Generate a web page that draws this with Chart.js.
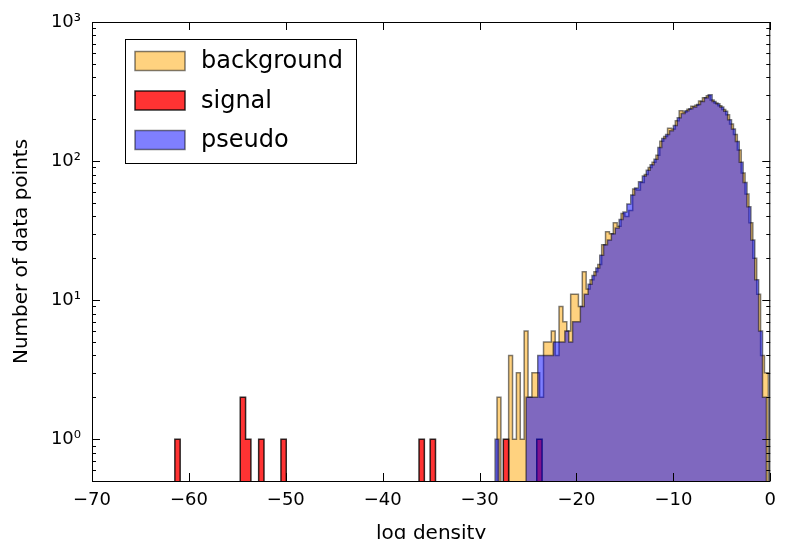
<!DOCTYPE html>
<html>
<head>
<meta charset="utf-8">
<script src="https://cdn.jsdelivr.net/npm/chart.js@4.4.1/dist/chart.umd.min.js"></script>
<style>
  html, body { margin: 0; padding: 0; background: #fff; }
  #wrap { width: 785px; height: 539px; }
</style>
</head>
<body>
<div id="wrap"><canvas id="histChart" width="785" height="539"></canvas></div>
<script>
// histogram bins (log density on x, counts on y)
const bgStart = -28.2;
const bgWidth = 0.4;
const bgCounts = [
    2, 0, 0, 4, 1, 3, 1, 6, 2, 3,
    3, 2, 5, 5, 6, 4, 9, 7, 6, 11,
    11, 9, 16, 12, 14, 16, 18, 25, 31, 30,
    36, 34, 42, 40, 44, 63, 62, 70, 80, 90,
    98, 110, 139, 150, 172, 170, 195, 230, 225, 236,
    248, 252, 270, 285, 295, 275, 262, 250, 235, 215,
    185, 155, 120, 82, 58, 36, 20, 11, 4, 3,
];

const pseudoStart = -28.4;
const pseudoWidth = 0.4;
const pseudoCounts = [
    1, 0, 0, 0, 0, 0, 0, 0, 2, 2,
    2, 4, 4, 4, 4, 5, 5, 5, 6, 5,
    7, 7, 9, 11, 13, 15, 17, 21, 25, 27,
    30, 33, 38, 43, 49, 57, 64, 71, 78, 86,
    94, 103, 125, 145, 155, 165, 180, 205, 220, 230,
    238, 245, 255, 268, 285, 300, 268, 258, 245, 228,
    198, 170, 138, 98, 70, 47, 27, 14, 6, 2,
];

// signal only has a handful of occupied bins
const signalWidth = 0.55;
const signalLeft = [-61.45, -54.7, -54.15, -52.8, -50.5, -36.25, -35.1, -27.55, -24.1];
const signalCounts = [1, 2, 1, 1, 1, 1, 1, 1, 1];

const xTicks = [-70, -60, -50, -40, -30, -20, -10, 0];
const yTicks = [1, 10, 100, 1000];
const SUP = { 0: '\u2070', 1: '\u00b9', 2: '\u00b2', 3: '\u00b3' };

const Y_MIN = 0.5;
const Y_MAX = 1000;
const FLOOR = 0.01; // empty bins sit below the axis on a log scale

const FONT = "'DejaVu Sans', 'Liberation Sans', sans-serif";

// outline of a stepfilled histogram with uniform bins
function denseSteps(start, width, counts) {
    const pts = [{ x: start, y: FLOOR }];
    counts.forEach((c, i) => {
        pts.push({ x: start + i * width, y: c > 0 ? c : FLOOR });
    });
    pts.push({ x: start + counts.length * width, y: FLOOR });
    return pts;
}

// outline for sparse bins, joining neighbours that touch
function sparseSteps(lefts, width, counts) {
    const pts = [];
    let prevRight = null;
    lefts.forEach((l, i) => {
        if (prevRight !== null && Math.abs(prevRight - l) < 1e-6) {
            pts.push({ x: l, y: counts[i] });
        } else {
            if (prevRight !== null) {
                pts.push({ x: prevRight, y: FLOOR });
            }
            pts.push({ x: l, y: FLOOR });
            pts.push({ x: l, y: counts[i] });
        }
        prevRight = l + width;
    });
    pts.push({ x: prevRight, y: FLOOR });
    return pts;
}

const frameTicks = {
    id: 'frameTicks',
    afterDatasetsDraw(chart) {
        const { ctx, chartArea: a } = chart;
        const xs = chart.scales.x;
        const ys = chart.scales.y;
        ctx.save();
        ctx.strokeStyle = '#000';
        ctx.lineWidth = 1;
        ctx.beginPath();
        xTicks.forEach((v) => {
            const px = Math.round(xs.getPixelForValue(v)) + 0.5;
            ctx.moveTo(px, a.bottom);
            ctx.lineTo(px, a.bottom - 8);
            ctx.moveTo(px, a.top);
            ctx.lineTo(px, a.top + 8);
        });
        yTicks.forEach((v) => {
            const py = Math.round(ys.getPixelForValue(v)) + 0.5;
            ctx.moveTo(a.left, py);
            ctx.lineTo(a.left + 8, py);
            ctx.moveTo(a.right, py);
            ctx.lineTo(a.right - 8, py);
        });
        for (let d = 0.1; d < Y_MAX; d *= 10) {
            for (let m = 2; m <= 9; m++) {
                const v = m * d;
                if (v < Y_MIN || v > Y_MAX) continue;
                const py = Math.round(ys.getPixelForValue(v)) + 0.5;
                ctx.moveTo(a.left, py);
                ctx.lineTo(a.left + 4, py);
                ctx.moveTo(a.right, py);
                ctx.lineTo(a.right - 4, py);
            }
        }
        ctx.stroke();
        ctx.strokeRect(a.left + 0.5, a.top + 0.5, a.right - a.left - 1, a.bottom - a.top);
        ctx.restore();
    },
};

const boxLegend = {
    id: 'boxLegend',
    afterDraw(chart) {
        const { ctx } = chart;
        const labels = ['background', 'signal', 'pseudo'];
        ctx.save();
        ctx.fillStyle = '#fff';
        ctx.fillRect(125, 39, 231, 124);
        ctx.strokeStyle = '#000';
        ctx.lineWidth = 1;
        ctx.strokeRect(125.5, 39.5, 231, 124);
        labels.forEach((name, i) => {
            const ds = chart.data.datasets.find((d) => d.label === name);
            const cy = 61 + i * 39.5;
            ctx.fillStyle = ds.backgroundColor;
            ctx.fillRect(135, cy - 9.5, 50, 19);
            ctx.strokeStyle = ds.borderColor;
            ctx.lineWidth = 1.5;
            ctx.strokeRect(135, cy - 9.5, 50, 19);
            ctx.fillStyle = '#000';
            ctx.font = `24px ${FONT}`;
            ctx.textBaseline = 'middle';
            ctx.fillText(name, 201, cy + 1);
        });
        ctx.restore();
    },
};

const histLine = {
    stepped: 'before',
    pointRadius: 0,
    pointHoverRadius: 0,
    borderWidth: 1.5,
    fill: 'start',
    tension: 0,
};

new Chart(document.getElementById('histChart'), {
    type: 'line',
    data: {
        datasets: [
            {
                ...histLine,
                label: 'background',
                data: denseSteps(bgStart, bgWidth, bgCounts),
                backgroundColor: 'rgba(255, 165, 0, 0.5)',
                borderColor: 'rgba(0, 0, 0, 0.5)',
                order: 3,
            },
            {
                ...histLine,
                label: 'signal',
                data: sparseSteps(signalLeft, signalWidth, signalCounts),
                backgroundColor: 'rgba(255, 0, 0, 0.8)',
                borderColor: 'rgba(0, 0, 0, 0.8)',
                order: 2,
            },
            {
                ...histLine,
                label: 'pseudo',
                data: denseSteps(pseudoStart, pseudoWidth, pseudoCounts),
                backgroundColor: 'rgba(0, 0, 255, 0.5)',
                borderColor: 'rgba(0, 0, 0, 0.5)',
                order: 1,
            },
        ],
    },
    options: {
        responsive: false,
        animation: false,
        events: [],
        layout: { padding: { top: 22, right: 7, bottom: 0, left: 0 } },
        plugins: {
            legend: { display: false },
            tooltip: { enabled: false },
        },
        scales: {
            x: {
                type: 'linear',
                min: -70,
                max: 0,
                afterBuildTicks(scale) {
                    scale.ticks = xTicks.map((v) => ({ value: v }));
                },
                afterFit(scale) {
                    scale.height = 58;
                },
                grid: { display: false, drawTicks: false },
                border: { display: false },
                ticks: {
                    autoSkip: false,
                    maxRotation: 0,
                    padding: 9,
                    color: '#000',
                    font: { family: FONT, size: 18 },
                    callback: (v) => (v < 0 ? '\u2212' + Math.abs(v) : String(v)),
                },
                title: {
                    display: true,
                    text: 'log density',
                    color: '#000',
                    font: { family: FONT, size: 20, lineHeight: 0.9 },
                    padding: { top: 0, bottom: -4 },
                },
            },
            y: {
                type: 'logarithmic',
                min: Y_MIN,
                max: Y_MAX,
                afterBuildTicks(scale) {
                    scale.ticks = yTicks.map((v) => ({ value: v }));
                },
                afterFit(scale) {
                    scale.width = 92;
                },
                grid: { display: false, drawTicks: false },
                border: { display: false },
                ticks: {
                    autoSkip: false,
                    padding: 11,
                    color: '#000',
                    font: { family: FONT, size: 18 },
                    callback: (v) => '10' + SUP[Math.round(Math.log10(v))],
                },
                title: {
                    display: true,
                    text: 'Number of data points',
                    color: '#000',
                    font: { family: FONT, size: 20 },
                    padding: { top: 10, bottom: 0 },
                },
            },
        },
    },
    plugins: [frameTicks, boxLegend],
});
</script>
</body>
</html>
